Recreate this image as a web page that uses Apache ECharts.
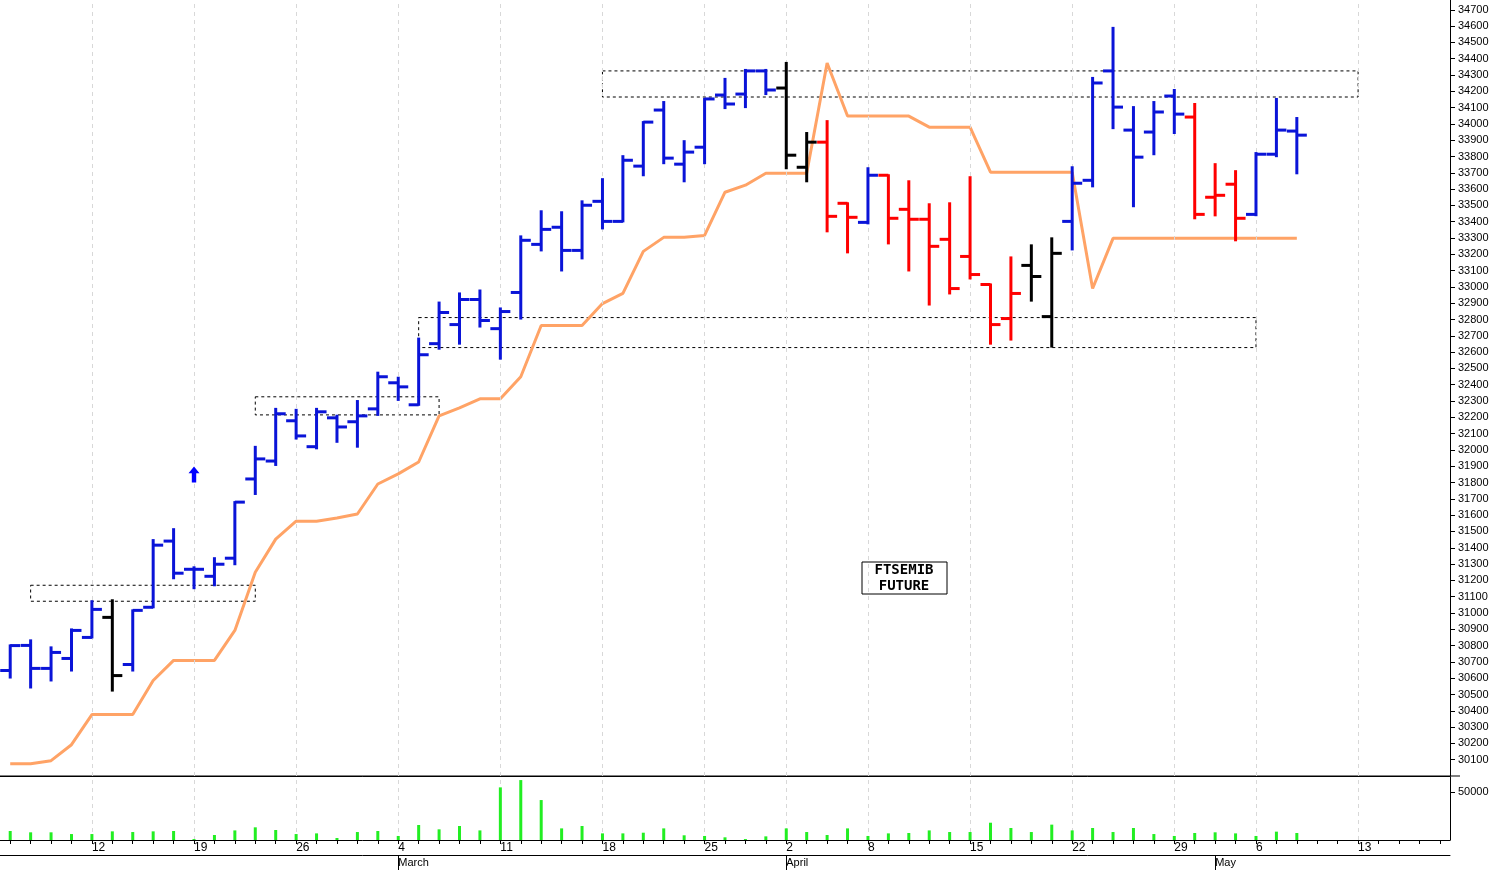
<!DOCTYPE html>
<html>
<head>
<meta charset="utf-8">
<script src="https://cdn.jsdelivr.net/npm/echarts@6/dist/echarts.min.js"></script>
<style>html,body{margin:0;padding:0;background:#fff}#main{width:1499px;height:870px}</style>
</head>
<body>
<div id="main"></div>
<script>
// day labels for each trading slot (71 slots, last 7 empty future days)
var days = ['6','7','8','11','12','13','14','15','18','19','20','21','22','25','26','27','28','1','1b','4','5','6','7','8','11','12','13','14','15','18','19','20','21','22','25','26','27','28','2','3','4','5','8','9','10','11','12','15','16','17','18','19','22','23','24','25','26','29','30','2','3','6','7','8','9','10','13','14','15','16','17'];
var dayLabels = {4:'12',9:'19',14:'26',19:'4',24:'11',29:'18',34:'25',38:'2',42:'8',47:'15',52:'22',57:'29',61:'6',66:'13'};
var monthLabels = {19:'March',38:'April',59:'May'};

var opens  = [30647,30801,30660,30721,30850,30973,30684,31035,31441,31268,31225,31336,31822,31932,32179,32020,32197,32173,32252,32412,32277,32652,32769,32923,32744,32966,33261,33366,33224,33525,33402,33741,34085,33753,33857,34177,34183,34325,34220,33734,33888,33513,33396,33685,33476,33415,33292,33187,33015,32806,33132,32818,33402,33654,34325,33962,33950,34171,34042,33550,33630,33445,33814,33956];
var highs  = [30801,30832,30789,30899,31072,31078,31016,31447,31514,31280,31336,31680,32019,32252,32246,32252,32210,32300,32474,32443,32683,32904,32960,32978,32868,33310,33464,33458,33525,33661,33802,34011,34134,33894,34153,34276,34331,34331,34374,33944,34017,33513,33728,33685,33648,33507,33513,33673,33015,33181,33255,33298,33734,34282,34589,34103,34134,34208,34122,33753,33710,33821,34153,34036];
var lows   = [30604,30543,30586,30647,30850,30524,30647,31035,31213,31152,31170,31299,31730,31908,32070,32010,32050,32020,32215,32307,32277,32621,32652,32757,32560,32806,33224,33101,33175,33359,33402,33685,33759,33648,33759,34097,34103,34183,33728,33648,33341,33212,33390,33267,33101,32892,32960,33052,32652,32677,32916,32634,33230,33617,33974,33495,33814,33944,33421,33439,33286,33440,33802,33697];
var closes = [30800,30660,30758,30893,31022,30616,31016,31416,31244,31268,31299,31680,31945,32222,32086,32234,32141,32209,32449,32387,32584,32843,32923,32794,32849,33286,33353,33224,33501,33402,33777,34011,33790,33827,34153,34122,34325,34208,33808,33888,33433,33427,33685,33421,33415,33249,32990,33076,32769,32960,33064,33206,33636,34251,34103,33796,34073,34060,33445,33562,33421,33814,33962,33931];
var barColors = 'bbbbbkbbbbbbbbbbbbbbbbbbbbbbbbbbbbbbbbkkrrbrrrrrrrkkbbbbbbrrrbbb';
var trend = [30075,30075,30094,30192,30377,30377,30377,30586,30709,30709,30709,30893,31250,31453,31563,31563,31582,31607,31791,31853,31926,32209,32258,32314,32314,32449,32763,32763,32763,32898,32960,33218,33304,33304,33316,33581,33624,33697,33697,33697,34374,34048,34048,34048,34048,33980,33980,33980,33704,33704,33704,33704,33704,32990,33298,33298,33298,33298,33298,33298,33298,33298,33298,33298];
var volumes = [9400,8000,8000,6200,6200,9000,8300,9000,9400,1000,5200,10000,13200,10400,6200,6900,2100,8300,9400,4200,15600,11100,14600,10000,54800,62400,41600,12100,14600,6900,6900,7600,12100,4900,4200,2800,1000,3800,12100,8300,5200,12100,4200,6900,7300,10000,8300,8300,18000,12500,8300,16000,10000,12500,8300,12500,6200,4200,7300,8000,6900,4200,8700,7300];
// annotation boxes: [startIdx, endIdx, top, bottom]
var boxes = [[1,12,31170,31072],[12,21,32326,32215],[20,61,32812,32628],[29,66,34325,34165]];

var colorMap = {b:'#0a14d8', k:'#000000', r:'#ff0000'};
var ohlc = opens.map(function(o,i){ return [i,o,highs[i],lows[i],closes[i]]; });
var weekLines = Object.keys(dayLabels).map(function(k){ return {xAxis:+k}; });
var labelFont = 'Liberation Sans Narrow, Liberation Sans, Arial';

var myChart = echarts.init(document.getElementById('main'));
var option = {
    animation:false,
    grid:[{left:0,right:49,top:0,bottom:94},{left:0,right:49,top:777,bottom:30}],
    xAxis:[
        {type:'category',gridIndex:0,data:days,boundaryGap:true,
         axisLine:{lineStyle:{color:'#000',width:1}},axisTick:{show:false},axisLabel:{show:false},splitLine:{show:false}},
        {type:'category',gridIndex:1,data:days,boundaryGap:true,
         axisLine:{lineStyle:{color:'#000'}},
         axisTick:{show:true,length:4,interval:0,alignWithLabel:true,lineStyle:{color:'#000'}},
         axisLabel:{interval:0,formatter:function(v,i){return dayLabels[i]||'';},align:'left',margin:2,fontSize:12,color:'#000',fontFamily:labelFont},
         splitLine:{show:false}},
        {type:'category',gridIndex:1,data:days,boundaryGap:true,position:'bottom',offset:15,
         axisLine:{lineStyle:{color:'#000'}},
         axisTick:{show:true,length:15,alignWithLabel:true,interval:function(i){return monthLabels[i]!==undefined;},lineStyle:{color:'#000'}},
         axisLabel:{interval:0,formatter:function(v,i){return monthLabels[i]||'';},align:'left',margin:2,fontSize:11,color:'#000',fontFamily:labelFont}}
    ],
    yAxis:[
        {type:'value',gridIndex:0,position:'right',min:30000,max:34760,interval:100,
         axisLine:{show:true,lineStyle:{color:'#000'}},axisTick:{show:true,length:5,lineStyle:{color:'#000'}},
         axisLabel:{showMinLabel:false,showMaxLabel:false,fontSize:11,margin:8,color:'#000',fontFamily:labelFont,formatter:function(v){return String(v);}},
         splitLine:{show:false}},
        {type:'value',gridIndex:1,position:'right',min:0,max:65600,interval:50000,
         axisLine:{show:true,lineStyle:{color:'#000'}},axisTick:{show:true,length:5,lineStyle:{color:'#000'}},
         axisLabel:{showMinLabel:false,showMaxLabel:false,fontSize:11,margin:8,color:'#000',fontFamily:labelFont,formatter:function(v){return String(v);}},
         splitLine:{show:false}}
    ],
    graphic:[
        {type:'line',shape:{x1:0,y1:776,x2:1460,y2:776},style:{stroke:'#000',lineWidth:1}},
        {type:'rect',shape:{x:862,y:562,width:85,height:32},style:{fill:'#fff',stroke:'#000',lineWidth:1}},
        {type:'text',x:904,y:578,style:{text:'FTSEMIB\nFUTURE',align:'center',verticalAlign:'middle',font:'bold 14px "DejaVu Sans Mono", monospace',fill:'#000',lineHeight:16}}
    ],
    series:[
        // week grid lines, kept underneath everything
        {type:'line',xAxisIndex:0,yAxisIndex:0,data:[],z:0,
         markLine:{silent:true,symbol:'none',label:{show:false},lineStyle:{color:'#d8d8d8',type:[4,4],width:1},data:weekLines}},
        {type:'line',xAxisIndex:1,yAxisIndex:1,data:[],z:0,
         markLine:{silent:true,symbol:'none',label:{show:false},lineStyle:{color:'#d8d8d8',type:[4,4],width:1},data:weekLines}},
        {type:'line',xAxisIndex:0,yAxisIndex:0,data:trend,symbol:'none',lineStyle:{color:'#ffa366',width:3},z:2,
         markArea:{silent:true,itemStyle:{color:'rgba(0,0,0,0)',borderColor:'#000',borderWidth:1,borderType:[3,3]},
            data:boxes.map(function(b){return [{xAxis:b[0],yAxis:b[2]},{xAxis:b[1],yAxis:b[3]}];})},
         markPoint:{silent:true,data:[{coord:[9,31850],symbol:'path://M5 0 L10 6 L7 6 L7 14 L3 14 L3 6 L0 6 Z',symbolSize:[11,16],itemStyle:{color:'#0000ff'},label:{show:false}}]}},
        {type:'custom',xAxisIndex:0,yAxisIndex:0,data:ohlc,z:5,
         renderItem:function(params,api){
            var i=api.value(0);
            var o=api.coord([i,api.value(1)]), h=api.coord([i,api.value(2)]), l=api.coord([i,api.value(3)]), c=api.coord([i,api.value(4)]);
            var col=colorMap[barColors.charAt(params.dataIndex)];
            var st={stroke:col,lineWidth:3};
            return {type:'group',children:[
                {type:'line',shape:{x1:h[0],y1:h[1]-1,x2:l[0],y2:l[1]+1},style:st},
                {type:'line',shape:{x1:o[0]-10,y1:o[1],x2:o[0],y2:o[1]},style:st},
                {type:'line',shape:{x1:c[0],y1:c[1],x2:c[0]+10,y2:c[1]},style:st}
            ]};
         }},
        {type:'bar',xAxisIndex:1,yAxisIndex:1,data:volumes,barWidth:3,itemStyle:{color:'#22ee22'},z:5}
    ]
};
myChart.setOption(option);
</script>
</body>
</html>
